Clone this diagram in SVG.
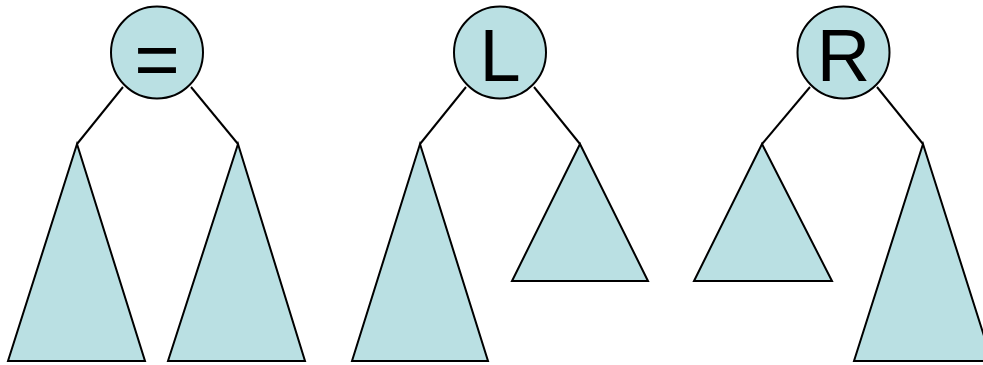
<svg xmlns="http://www.w3.org/2000/svg" width="983" height="365" viewBox="0 0 983 365">
<style>
.n{fill:#BAE0E3;stroke:#000;stroke-width:2}
.t{fill:#BAE0E3;stroke:#000;stroke-width:2;stroke-linejoin:miter}
.e{stroke:#000;stroke-width:2;fill:none}
.lbl{font-family:"Liberation Sans",Arial,sans-serif;font-size:74px;fill:#000;text-anchor:middle}
</style>
<rect width="983" height="365" fill="#fff"/>
<g id="connectors">
<line class="e" x1="123" y1="87" x2="77" y2="144"/>
<line class="e" x1="191" y1="87" x2="238" y2="144"/>
<line class="e" x1="466" y1="87" x2="420" y2="144"/>
<line class="e" x1="534" y1="87" x2="580" y2="144"/>
<line class="e" x1="810" y1="87" x2="762" y2="144"/>
<line class="e" x1="877" y1="87" x2="923" y2="144"/>
</g>
<g id="node-eq"><circle class="n" cx="157" cy="52.5" r="46"/><text class="lbl" x="157" y="86" style="font-size:78px">=</text></g>
<g id="eq-left"><polygon class="t" points="77,144 145,361 8,361"/></g>
<g id="eq-right"><polygon class="t" points="238,144 305,361 168,361"/></g>
<g id="node-L"><circle class="n" cx="500" cy="52.5" r="46"/><text class="lbl" x="500" y="81">L</text></g>
<g id="L-left"><polygon class="t" points="420,144 488,361 352,361"/></g>
<g id="L-right"><polygon class="t" points="580,144 648,281 512,281"/></g>
<g id="node-R"><circle class="n" cx="843.5" cy="52.5" r="46"/><text class="lbl" x="843.5" y="81">R</text></g>
<g id="R-left"><polygon class="t" points="762,144 832,281 694,281"/></g>
<g id="R-right"><polygon class="t" points="923,144 992,361 854,361"/></g>
</svg>
